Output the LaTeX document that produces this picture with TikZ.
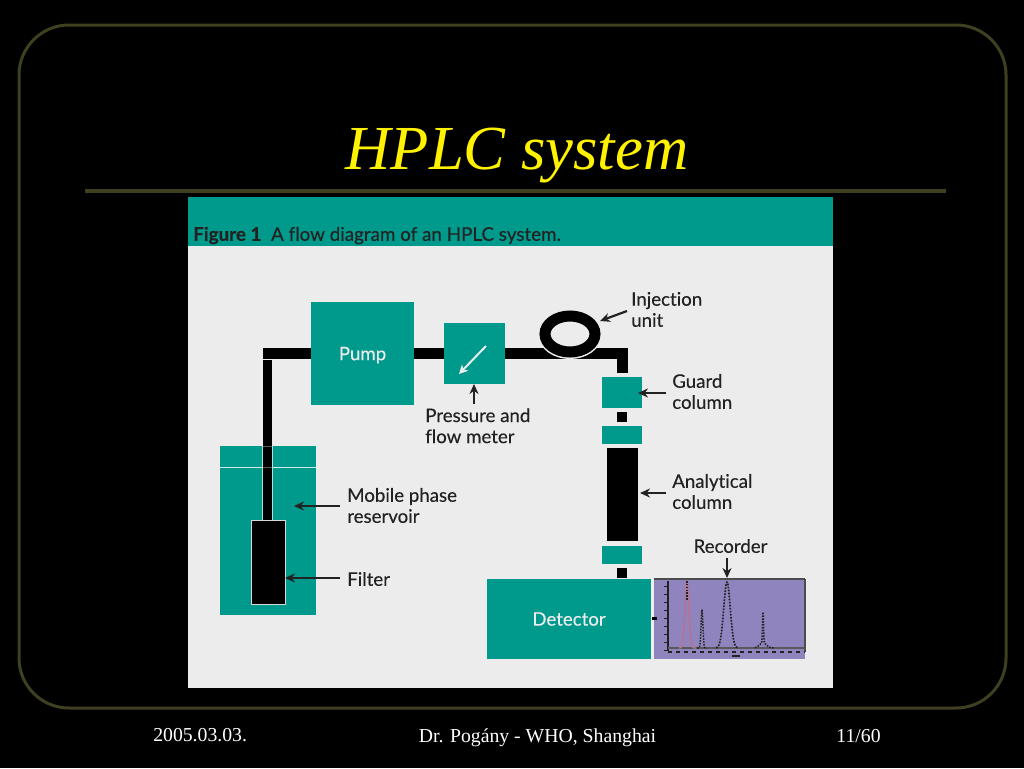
\documentclass[tikz,border=0pt]{standalone}
\usepackage{fontspec}
\usetikzlibrary{arrows.meta,shapes.geometric}
\setmainfont{Liberation Serif}
\newfontfamily\lab{Lato}[Ligatures=NoCommon,FakeBold=0.25]
\definecolor{tealc}{HTML}{009A8C}
\definecolor{panelc}{HTML}{ECECEC}
\definecolor{framec}{HTML}{3F4020}
\definecolor{purplec}{HTML}{8F84BD}
\definecolor{inkc}{HTML}{222222}
\definecolor{pinkc}{HTML}{B9718F}
\def\pxu{0.75pt}
\tikzset{
  x=0.75pt,y=-0.75pt,
  box/.style={inner sep=0pt,outer sep=0pt,line width=0pt,anchor=center},
  tealbox/.style={box,fill=tealc},
  blackbox/.style={box,fill=black,draw=white!85!black,line width=0.6pt},
  pipe/.style={line width=11*\pxu,black,line cap=butt},
  callout/.style={line width=2.2*\pxu,inkc,-{Stealth[length=10*\pxu,width=9*\pxu]},shorten >=0pt},
  labeltext/.style={font=\lab\fontsize{14pt}{15.8pt}\selectfont,text=inkc,align=left,inner sep=0pt,anchor=west},
  foot/.style={font=\fontsize{14.8pt}{17pt}\selectfont,text=white,inner sep=0pt},
  sz/.style 2 args={minimum width=#1*\pxu,minimum height=#2*\pxu},
}
\begin{document}
\begin{tikzpicture}
\useasboundingbox (0,0) rectangle (1024,768);
\fill[black] (0,0) rectangle (1024,768);
\draw[framec,line width=3*\pxu,rounded corners=50*\pxu] (19,25) rectangle (1006,708);
\draw[framec,line width=4*\pxu] (85,191) -- (946,191);
\node[font=\fontsize{47pt}{52pt}\selectfont\itshape,text=yellow,inner sep=0pt,anchor=base] (title) at (517,169.5) {HPLC system};
% panel
\node[box,fill=panelc,sz={645}{491}] (panel) at (510.5,442.5) {};
\node[box,fill=tealc,sz={645}{49}] (header) at (510.5,221.5) {};
\node[font=\lab\fontsize{14.1pt}{16pt}\selectfont,text=inkc,inner sep=0pt,anchor=west] (caption) at (193,235.5) {\textbf{Figure 1}\ \ A flow diagram of an HPLC system.};
% main boxes
\node[tealbox,sz={103}{103},font=\lab\fontsize{14pt}{15pt}\selectfont,text=panelc,text depth=0pt] (pump) at (362.5,353.5) {Pump};
\node[tealbox,sz={61}{61}] (meter) at (474.5,353.5) {};
\node[tealbox,sz={96}{169}] (res) at (268,530.5) {};
\node[tealbox,sz={40}{31}] (guard) at (622,392.5) {};
\node[tealbox,sz={40}{18}] (gap1) at (622,435) {};
\node[tealbox,sz={40}{18}] (gap2) at (622,555) {};
\node[tealbox,sz={164}{80},font=\lab\fontsize{14pt}{15pt}\selectfont,text=panelc] (det) at (569,619) {Detector};
\node[box,fill=purplec,sz={151}{80}] (rec) at (729.5,619) {};
\draw[white!80!tealc,line width=1*\pxu] (res.west |- 0,467) -- (res.east |- 0,467);
% pipes
\coordinate (cornerL) at (263,353.5);
\coordinate (cornerR) at (622,353.5);
\node[blackbox,sz={34}{84}] (filter) at (268,562) {};
\draw[pipe] (cornerL) -- (pump.west);
\draw[black,line width=9.5*\pxu] (267.5,360) -- (267.5,520);
\draw[white!70!tealc,line width=.5*\pxu] (262.5,446) -- (262.5,520) (272.5,446) -- (272.5,520);
\draw[gray!70!black,line width=1*\pxu] (263,446) -- (272,446) (263,467) -- (272,467);
\draw[pipe] (pump.east) -- (meter.west);
\draw[pipe] (meter.east) -- (627,353.5);
\draw[pipe] (cornerR |- 0,348) -- (cornerR |- 0,373);
\node[draw=panelc,line width=14*\pxu,ellipse,inner sep=0pt,sz={50}{36}] (injhalo) at (570,334) {};
\node[draw=black,line width=11*\pxu,ellipse,inner sep=0pt,sz={50}{36}] (inj) at (570,334) {};
\node[box,fill=black,sz={10}{10}] (s1) at (622,417) {};
\node[box,fill=black,sz={31}{93}] (acol) at (622.5,494.5) {};
\node[box,fill=black,sz={10}{10}] (s2) at (622,573) {};
% meter arrow
\coordinate (mA) at (486,346);
\coordinate (mB) at (459,374);
\draw[panelc,line width=2*\pxu,-{Stealth[length=9*\pxu,width=9*\pxu]}] (mA) -- (mB);
% labels
\node[labeltext] (linj) at (631,309.5) {Injection\\unit};
\node[labeltext] (lguard) at (672,391.5) {Guard\\column};
\node[labeltext] (lana) at (672,491.5) {Analytical\\column};
\node[labeltext] (lmob) at (347,505.5) {Mobile phase\\reservoir};
\node[labeltext] (lfil) at (347,579) {Filter};
\node[labeltext,anchor=north west] (lpres) at (425,408) {Pressure and\\flow meter};
\node[labeltext,anchor=center] (lrec) at (730.5,546) {Recorder};
% callouts
\coordinate (ainj) at (600,321);
\coordinate (aguard) at (638,393);
\coordinate (aana) at (640,493);
\coordinate (amob) at (294,506);
\coordinate (afil) at (285,578);
\coordinate (apres) at (474,384);
\coordinate (arec) at (727,578);
\draw[callout] (627,311) -- (ainj);
\draw[callout] (666,393) -- (aguard);
\draw[callout] (666,493) -- (aana);
\draw[callout] (340,506) -- (amob);
\draw[callout] (340,578) -- (afil);
\draw[callout] (474,404) -- (apres);
\draw[callout] (727,558) -- (arec);
\draw[black,line width=3.5*\pxu] (652,618.5) -- (657,618.5);
% recorder plot
\draw[gray!60!black,line width=2*\pxu] (rec.north west) -- (rec.north east);
\draw[gray!60!black,line width=1.5*\pxu] (rec.north east) -- (rec.south east |- 0,652);
\draw[inkc,line width=1.2*\pxu] (668,581) -- (668,651);
\draw[inkc,line width=1.8*\pxu,dash pattern=on 3pt off 3pt] (668,652) -- (805,652);
\foreach \yy in {586,594,...,650} \draw[inkc,line width=1*\pxu] (664,\yy) -- (668,\yy);
\draw[gray!70!black,line width=2*\pxu] (668,648) -- (805,648);
\draw[pinkc,line width=1.4*\pxu] plot[domain=679:696,samples=50,smooth] (\x,{648-66*exp(-((\x-687)/2.8)^2)});
\draw[inkc,line width=1.5*\pxu,densely dotted] (687,581) -- (687,600);
\draw[inkc,line width=1.5*\pxu,densely dotted] plot[domain=697:707,samples=40,smooth] (\x,{648-38*exp(-((\x-702)/1.3)^2)});
\draw[inkc,line width=1.7*\pxu,densely dotted] plot[domain=716:738,samples=60,smooth] (\x,{648-66*exp(-((\x-727)/4.6)^2)});
\draw[inkc,line width=1.5*\pxu,densely dotted] plot[domain=755:774,samples=50,smooth] (\x,{648-5*exp(-((\x-763)/5)^2)-32*exp(-((\x-763)/.7)^2)});
\draw[inkc,line width=2*\pxu] (732,656) -- (740,656);
% footer
\node[foot,anchor=west] (f1) at (153,735) {2005.03.03.};
\node[foot] (f2) at (537.5,738) {Dr. Pogány - WHO, Shanghai};
\node[foot] (f3) at (858.5,736) {11/60};
\end{tikzpicture}
\end{document}
